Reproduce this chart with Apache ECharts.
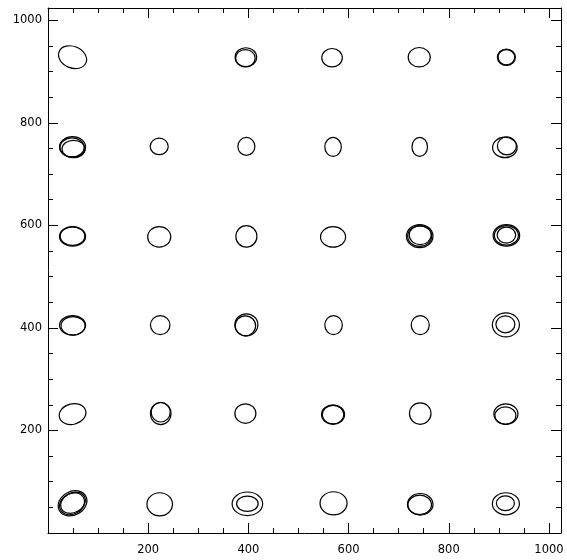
<!DOCTYPE html>
<html>
<head>
<meta charset="utf-8">
<script src="https://cdn.jsdelivr.net/npm/echarts@6/dist/echarts.min.js"></script>
<style>html,body{margin:0;padding:0;background:#fff;}#chart{width:567px;height:560px;}</style>
</head>
<body>
<div id="chart"></div>
<script>
// Axis ranges and tick labels
var xRange = [0, 1024];
var yRange = [0, 1024];
var tickLabels = [200, 400, 600, 800, 1000];

// Contour rings: centre (x, y), semi-axes (rx, ry) in data units, tilt in radians
var ringX = [
  49, 395, 394, 567, 741, 915, 915,
  49, 48, 51, 222, 396, 569, 742, 912, 916,
  49, 49, 222, 396, 569, 742, 742, 743, 915, 915, 915,
  49, 50, 224, 396, 394, 570, 743, 914, 913,
  49, 225, 225, 394, 569, 569, 743, 914, 913,
  49, 48, 50, 223, 398, 398, 570, 743, 742, 914, 913
];
var ringY = [
  928, 928, 926, 927, 928, 928, 928,
  753, 752, 749, 754, 754, 753, 753, 752, 755,
  578.5, 579, 577.5, 578.5, 577.5, 579, 579, 581, 580.5, 580.5, 581,
  405, 404, 405.5, 406, 404, 405.5, 405.5, 406, 407,
  232, 233, 235.5, 233, 231, 231, 233, 232, 229,
  58, 57, 59, 56, 57, 57, 58, 56, 55, 57, 58
];
var ringRX = [
  29, 21.5, 19.5, 20.5, 22, 18, 16.5,
  26, 24, 23, 18, 17, 16.5, 15.5, 24.5, 19,
  26, 24.5, 23, 21, 25, 26.5, 24, 22, 26.5, 24, 18.5,
  26, 24, 19.5, 23, 20.5, 17.5, 18, 27, 19,
  27, 20.5, 19, 21, 23, 21.5, 21.5, 24, 21,
  30, 26, 26, 25.5, 30.5, 21.5, 27, 25.5, 23.5, 27, 18
];
var ringRY = [
  21, 18.5, 17, 18, 19, 16, 15,
  20, 18.5, 17, 16, 17.5, 18.5, 18.5, 20, 17.5,
  19, 18, 20, 21, 20, 22.5, 20, 18.5, 21, 19, 15.5,
  19, 18, 18.5, 21.5, 19.5, 18.5, 18.5, 23.5, 16.5,
  20, 21.5, 19, 19, 19, 18, 21, 20, 17,
  23, 20, 19, 22.5, 23, 15, 22.5, 21, 19, 21.5, 14.5
];
var ringTilt = [
  -0.4, 0, 0, 0, 0, 0, 0,
  0, 0, 0, 0, 0, 0, 0, 0, 0,
  0, 0, 0, 0, 0, 0, 0, 0, 0, 0, 0,
  0, 0, 0, 0, 0, 0, 0, 0, 0,
  0.25, 0, 0, 0, 0, 0, 0, 0, 0,
  0.5, 0.5, 0.5, 0, 0, 0, 0, 0, 0, 0, 0
];

var rings = ringX.map(function (x, i) {
  return [x, ringY[i], ringRX[i], ringRY[i], ringTilt[i]];
});

var labelFont = {color: '#000', fontFamily: 'DejaVu Sans', fontSize: 11.5};
function fmt(v) { return tickLabels.indexOf(v) >= 0 ? String(v) : ''; }

function makeAxis(pos, range, showLabel, margin) {
  return {
    type: 'value', position: pos, min: range[0], max: range[1], interval: 200,
    axisLine: {show: true, onZero: false, lineStyle: {color: '#000', width: 1}},
    axisTick: {show: true, inside: true, length: 10, lineStyle: {color: '#000', width: 1}},
    minorTick: {show: true, splitNumber: 4, length: 5, lineStyle: {color: '#000', width: 1}},
    splitLine: {show: false},
    minorSplitLine: {show: false},
    axisLabel: Object.assign({show: showLabel, margin: margin, formatter: fmt,
      showMinLabel: true, showMaxLabel: true}, labelFont)
  };
}

var chart = echarts.init(document.getElementById('chart'), null, {renderer: 'canvas'});
chart.setOption({
  animation: false,
  backgroundColor: '#fff',
  grid: {left: 48, top: 8, width: 513, height: 525, containLabel: false, outerBoundsMode: 'none'},
  xAxis: [makeAxis('bottom', xRange, true, 11), makeAxis('top', xRange, false, 8)],
  yAxis: [makeAxis('left', yRange, true, 6), makeAxis('right', yRange, false, 8)],
  series: [{
    type: 'custom',
    xAxisIndex: 0,
    yAxisIndex: 0,
    data: rings,
    renderItem: function (params, api) {
      var c = api.coord([api.value(0), api.value(1)]);
      var s = api.size([api.value(2), api.value(3)]);
      return {
        type: 'ellipse',
        x: c[0], y: c[1],
        rotation: api.value(4),
        shape: {cx: 0, cy: 0, rx: s[0], ry: s[1]},
        style: {fill: 'none', stroke: '#000', lineWidth: 1.2}
      };
    }
  }]
});
</script>
</body>
</html>
